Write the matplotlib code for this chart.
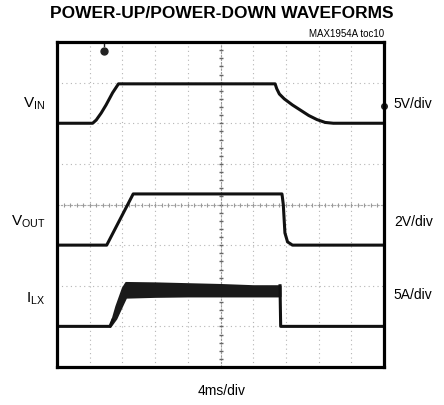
import numpy as np
import matplotlib.pyplot as plt

# scope traces, in divisions (x: 0..10, y: 0..8)
vin_t = [0, 1.09, 1.2, 1.35, 1.5, 1.7, 1.88, 6.67, 6.72, 6.8, 6.95, 7.2, 7.45, 7.7, 7.95, 8.2, 8.45, 10]
vin_v = [6.0, 6.0, 6.08, 6.25, 6.45, 6.75, 6.97, 6.97, 6.85, 6.72, 6.6, 6.45, 6.32, 6.19, 6.09, 6.02, 6.0, 6.0]

vout_t = [0, 1.52, 2.33, 6.88, 6.92, 6.97, 7.05, 7.2, 10]
vout_v = [3.0, 3.0, 4.26, 4.26, 4.0, 3.3, 3.08, 3.0, 3.0]

ilx_t = [0, 1.62, 1.7]
ilx_v = [1.0, 1.0, 1.15]
ilx_off_t = [6.82, 6.84, 10]
ilx_off_v = [2.0, 1.0, 1.0]
band_t = [1.62, 1.8, 2.0, 2.1, 3, 4, 5, 6, 6.82]
band_top = [1.0, 1.5, 1.95, 2.08, 2.07, 2.05, 2.03, 2.0, 2.0]
band_bot = [1.0, 1.2, 1.55, 1.72, 1.74, 1.75, 1.75, 1.75, 1.75]

left_labels = [(r'V$_{\mathrm{IN}}$', 6.5), (r'V$_{\mathrm{OUT}}$', 3.6), (r'I$_{\mathrm{LX}}$', 1.7)]
right_labels = [('5V/div', 6.5), ('2V/div', 3.6), ('5A/div', 1.8)]

plt.rcParams['font.family'] = ['Liberation Sans Narrow', 'Liberation Sans', 'DejaVu Sans']
plt.rcParams['mathtext.fontset'] = 'custom'
plt.rcParams['mathtext.rm'] = 'Liberation Sans'

fig = plt.figure(figsize=(4.44, 4.06), dpi=100)
ax = fig.add_axes([57/444, 1-368/406, 327/444, 325/406])
ax.set_xlim(0, 10)
ax.set_ylim(0, 8)
ax.set_xticks([])
ax.set_yticks([])
for s in ax.spines.values():
    s.set_linewidth(2.3)

# graticule
for gx in range(1, 10):
    ax.axvline(gx, color='#b5b5b5', lw=0.8, ls=(0, (1, 3)), zorder=0)
for gy in range(1, 8):
    ax.axhline(gy, color='#b5b5b5', lw=0.8, ls=(0, (1, 3)), zorder=0)
ax.axvline(5, color='#999999', lw=0.8, ls=(0, (2, 1)), zorder=0)
ax.axhline(4, color='#aaaaaa', lw=0.8, ls=(0, (2, 1)), zorder=0)
ty = np.arange(0, 8.01, 0.2)
tx = np.arange(0, 10.01, 0.2)
ax.plot(np.full_like(ty, 5), ty, '_', color='#666666', ms=3.5, mew=1.0, zorder=0)
ax.plot(tx, np.full_like(tx, 4), '|', color='#999999', ms=3, mew=0.8, zorder=0)

c = '#111111'
ax.plot(vin_t, vin_v, color=c, lw=2.2, solid_joinstyle='round')
ax.plot(vout_t, vout_v, color=c, lw=2.2, solid_joinstyle='round')
ax.fill_between(band_t, band_bot, band_top, color='#1a1a1a', lw=1.5, edgecolor='#1a1a1a')
ax.plot(ilx_t, ilx_v, color=c, lw=2.2)
ax.plot(ilx_off_t, ilx_off_v, color=c, lw=2.2)

# channel markers
ax.plot([1.45], [7.78], marker='o', ms=5, color='#222222', clip_on=False)
ax.plot([1.45, 1.45], [7.9, 8.0], color='#222222', lw=1)
ax.plot([10], [6.43], marker='o', ms=4, color='#222222', clip_on=False)

for txt, yy in left_labels:
    ax.text(-0.35, yy, txt, ha='right', va='center', fontsize=11)
for txt, yy in right_labels:
    ax.text(10.3, yy, txt, ha='left', va='center', fontsize=10)

fig.text(222/444, 1-13/406, 'POWER-UP/POWER-DOWN WAVEFORMS', ha='center', va='center',
         fontsize=12.5, fontweight='bold')
fig.text(384/444, 1-34/406, 'MAX1954A toc10', ha='right', va='center', fontsize=7)
fig.text(222/444, 1-391/406, '4ms/div', ha='center', va='center', fontsize=10)

fig.savefig('out.png', dpi=100)
